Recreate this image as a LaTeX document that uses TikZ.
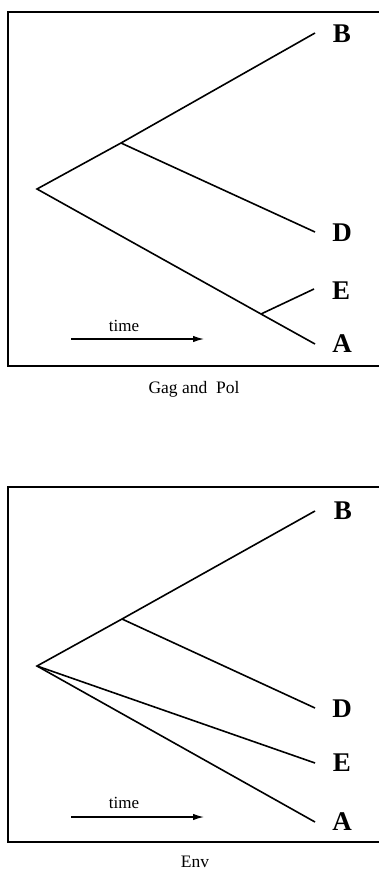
\documentclass[tikz,border=0pt]{standalone}
\usepackage{fontspec}
\setmainfont{Liberation Serif}
\usetikzlibrary{arrows.meta}
\begin{document}
\begin{tikzpicture}[x=1pt,y=-1pt,
  frame/.style={line width=1.4pt},
  branch/.style={line width=1.6pt},
  leaf/.style={font=\fontsize{27}{27}\selectfont\bfseries, inner sep=0pt},
  timelbl/.style={font=\fontsize{17}{17}\selectfont, inner sep=0pt, anchor=base},
  caption/.style={font=\fontsize{17.5}{17.5}\selectfont, inner sep=0pt, anchor=base},
  timearrow/.style={line width=1.4pt, -{Latex[length=11pt,width=6.5pt]}}]
\useasboundingbox (0,0) rectangle (379,870);
% ---------- top panel ----------
\draw[frame] (380,12) -- (8,12) -- (8,366) -- (380,366);
\coordinate (r1) at (37,189);
\coordinate (n1) at (121,143);
\coordinate (m1) at (261,314);
\coordinate (b1) at (315,33);
\coordinate (d1) at (315,232);
\coordinate (e1) at (314,289);
\coordinate (a1) at (315,344);
\node[leaf] (B1) at (342,34) {B};
\node[leaf] (D1) at (342,233) {D};
\node[leaf] (E1) at (341,291) {E};
\node[leaf] (A1) at (342,344) {A};
\draw[branch] (b1) -- (n1) -- (r1) -- (m1) -- (a1);
\draw[branch] (n1) -- (d1);
\draw[branch] (m1) -- (e1);
\coordinate (ts1) at (71,339);
\coordinate (te1) at (204,339);
\draw[timearrow] (ts1) -- (te1);
\node[timelbl] (t1) at (124,331) {time};
\node[caption] (c1) at (194,393) {Gag and\ \ Pol};
% ---------- bottom panel ----------
\draw[frame] (380,487) -- (8,487) -- (8,842) -- (380,842);
\coordinate (r2) at (37,666);
\coordinate (n2) at (122,619);
\coordinate (b2) at (315,511);
\coordinate (d2) at (315,708);
\coordinate (e2) at (315,763);
\coordinate (a2) at (315,822);
\node[leaf] (B2) at (343,511) {B};
\node[leaf] (D2) at (342,709) {D};
\node[leaf] (E2) at (342,763) {E};
\node[leaf] (A2) at (342,822) {A};
\draw[branch] (b2) -- (n2) -- (r2) -- (a2);
\draw[branch] (n2) -- (d2);
\draw[branch] (r2) -- (e2);
\coordinate (ts2) at (71,817);
\coordinate (te2) at (204,817);
\draw[timearrow] (ts2) -- (te2);
\node[timelbl] (t2) at (124,808) {time};
\node[caption] (c2) at (195,867) {Env};
\end{tikzpicture}
\end{document}
